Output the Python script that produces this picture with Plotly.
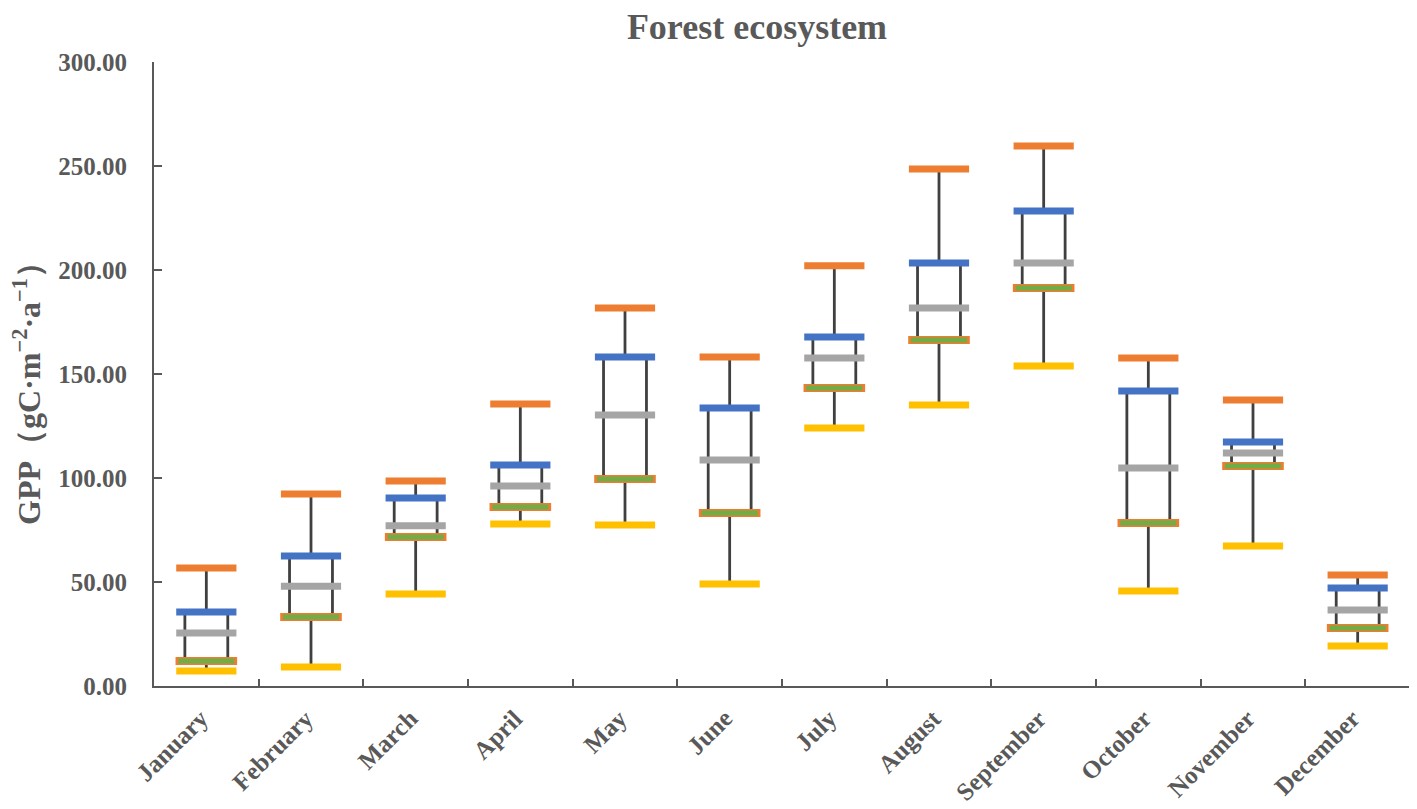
import plotly.graph_objects as go

months = ["January", "February", "March", "April", "May", "June", "July",
          "August", "September", "October", "November", "December"]
max_vals = [56.7, 92.3, 98.6, 135.6, 181.7, 158.2, 202.0, 248.6, 259.6, 157.7, 137.5, 53.4]
q3_vals = [35.6, 62.5, 90.4, 106.3, 158.2, 133.7, 167.8, 203.4, 228.4, 141.8, 117.3, 47.1]
median_vals = [25.5, 48.0, 77.0, 96.2, 130.3, 108.7, 157.7, 181.7, 203.4, 104.8, 112.0, 36.5]
q1_vals = [12.0, 33.2, 71.6, 86.0, 99.5, 83.2, 143.3, 166.3, 191.3, 78.4, 105.8, 27.9]
min_vals = [7.2, 9.1, 44.2, 77.9, 77.4, 49.0, 124.0, 135.1, 153.8, 45.7, 67.3, 19.2]
y_ticks = [0, 50, 100, 150, 200, 250, 300]

ORANGE = "#ED7D31"
BLUE = "#4472C4"
GRAY = "#A5A5A5"
GREEN = "#70AD47"
YELLOW = "#FFC000"
DARK = "#404040"
TXT = "#595959"
SERIF = "Liberation Serif, Times New Roman, serif"

W, H = 1409, 801
L, R, T, B = 146, 7, 54, 123
PW, PH = W - L - R, H - T - B

fig = go.Figure()
fig.add_trace(go.Box(
    x=months, q1=q1_vals, median=median_vals, q3=q3_vals,
    lowerfence=min_vals, upperfence=max_vals,
    fillcolor="white", line=dict(color=DARK, width=2.8),
    width=0.41, whiskerwidth=0, boxpoints=False, showlegend=False,
))


def bar_marks(vals, color, size=43, lw=7):
    fig.add_trace(go.Scatter(
        x=months, y=vals, mode="markers", showlegend=False, hoverinfo="y",
        marker=dict(symbol="line-ew", size=size, line=dict(color=color, width=lw)),
    ))


bar_marks(max_vals, ORANGE)
bar_marks(min_vals, YELLOW)
bar_marks(q3_vals, BLUE)
bar_marks(median_vals, GRAY)
bar_marks(q1_vals, ORANGE, size=44, lw=8)
bar_marks(q1_vals, GREEN, size=40, lw=5)

fig.update_layout(
    width=W, height=H,
    margin=dict(l=L, r=R, t=T, b=B),
    paper_bgcolor="white", plot_bgcolor="white",
    title=dict(text="Forest ecosystem", x=749 / W, xanchor="center",
               y=1 - 18 / H, yanchor="middle", yref="container",
               font=dict(family=SERIF, size=36, color=TXT, weight="bold")),
    font=dict(family=SERIF, color=TXT),
)
fig.add_annotation(
    text="GPP（gC·m<sup>−2</sup>·a<sup>−1</sup>）",
    xref="paper", yref="paper",
    x=(19 - L) / PW, y=(H - B - 378) / PH,
    xanchor="center", yanchor="middle", textangle=-90, showarrow=False,
    font=dict(family=SERIF, size=32, color=TXT, weight="bold"),
)
# month labels, placed below the axis at each category
for m in months:
    fig.add_annotation(
        text=m, x=m, xref="x", y=0, yref="paper",
        xanchor="right", yanchor="top", textangle=-45, showarrow=False,
        xshift=10, yshift=-16,
        font=dict(family=SERIF, size=25, color=TXT, weight="bold"),
    )
fig.update_yaxes(
    range=[0, 300], tickvals=y_ticks, tickformat=".2f",
    ticks="inside", ticklen=8, tickwidth=2, tickcolor=TXT,
    showline=True, linecolor=TXT, linewidth=2, showgrid=False, zeroline=False,
    tickfont=dict(family=SERIF, size=25, color=TXT, weight="bold"),
    ticklabelstandoff=20,
)
fig.update_xaxes(
    type="category", categoryarray=months, range=[-0.5, len(months) - 0.5],
    tickson="boundaries",
    ticks="inside", ticklen=7, tickwidth=2, tickcolor=TXT,
    showline=True, linecolor=TXT, linewidth=2, showgrid=False,
    showticklabels=False,
)

fig.write_html("out.html")
